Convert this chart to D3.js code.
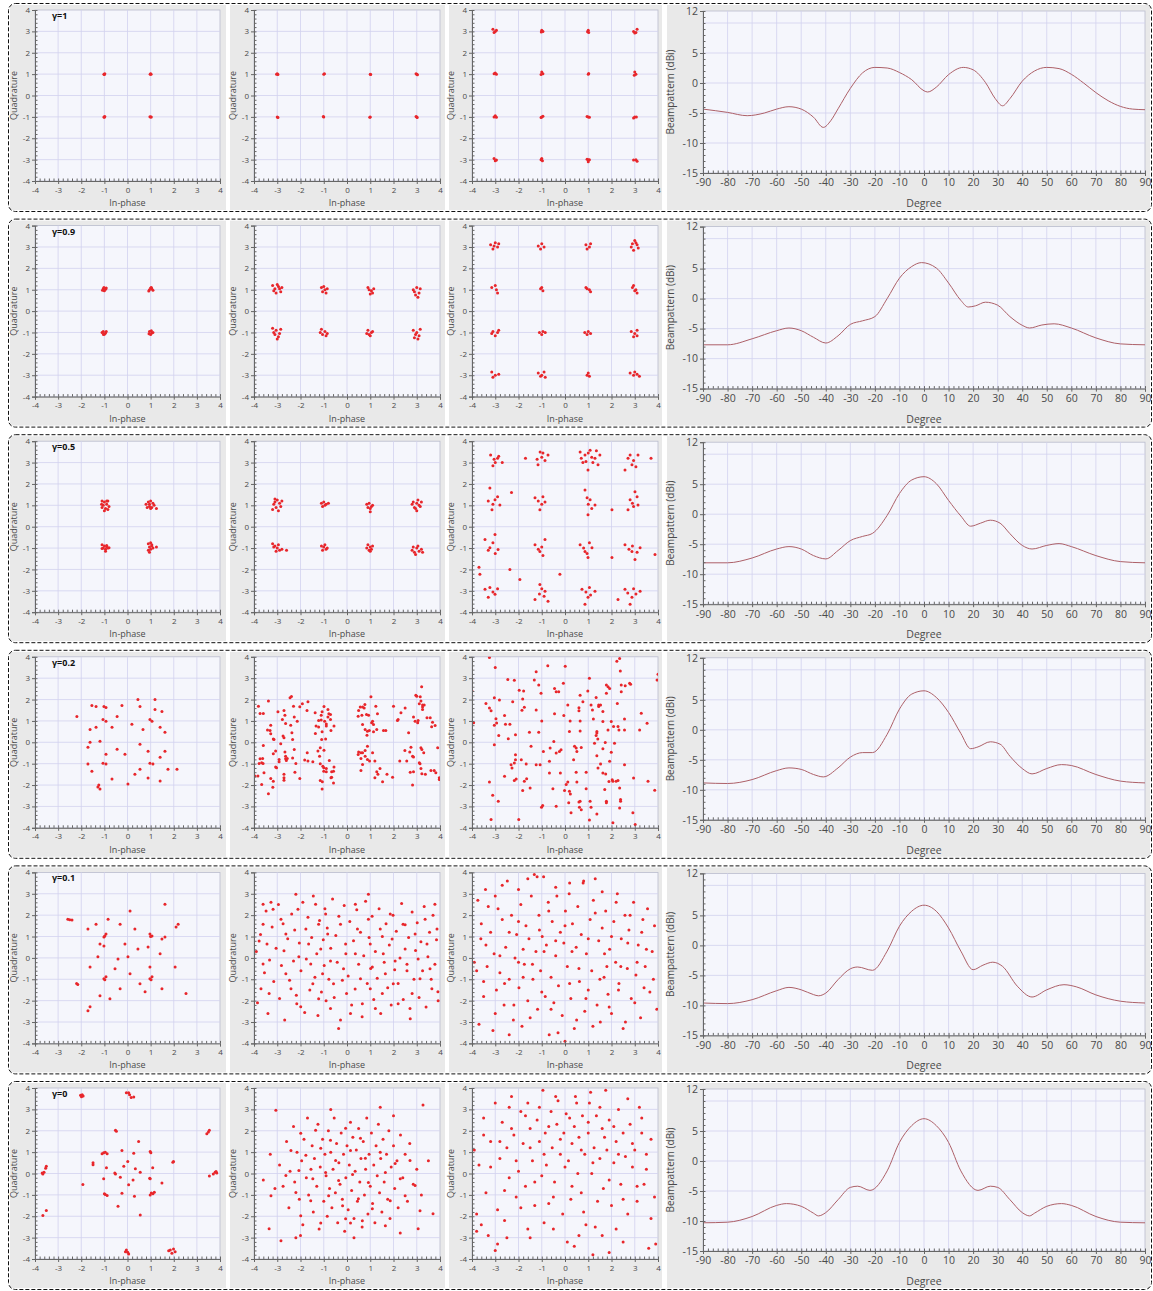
<!DOCTYPE html>
<html>
<head>
<meta charset="utf-8">
<script src="https://cdn.jsdelivr.net/npm/d3@7"></script>
<style>
  body { margin: 0; background: #fff; }
  svg { display: block; }
  text { font-family: "Open Sans", "DejaVu Sans", sans-serif; }
</style>
</head>
<body>
<svg id="fig" width="1153" height="1291"></svg>
<script>
// ---- labels / ticks ----
const gammaLabels = ["γ=1", "γ=0.9", "γ=0.5", "γ=0.2", "γ=0.1", "γ=0"];
const iqTicks = [-4, -3, -2, -1, 0, 1, 2, 3, 4];
const degTicks = [-90, -80, -70, -60, -50, -40, -30, -20, -10, 0, 10, 20, 30, 40, 50, 60, 70, 80, 90];
const dbTicks = [12, 5, 0, -5, -10, -15];
const dbGrid = [10, 5, 0, -5, -10];

// ---- constellations, [in-phase, quadrature] ----
const g1_a = [[-1.02,1],[-0.98,1.02],[-1,0.98],[1,1.02],[0.98,1],[1.02,0.99],[-1.02,-1],[-0.98,-0.98],[-1,-1.02],[1,-1],[1.03,-1.01],[0.97,-0.99]];
const g1_b = [[-3,1.02],[-2.97,0.98],[-3.03,1],[-1,1],[-0.97,1.02],[1,1],[1.02,0.98],[3,1],[2.97,1.02],[3.03,0.97],
  [-3,-1],[-2.97,-1.03],[-1,-1],[-1.02,-0.98],[1,-1],[0.98,-1.02],[3,-1],[3.02,-1.03],[2.97,-0.98]];
const g1_c = [[-3.1,3.1],[-3,3],[-2.95,3.05],[-3.05,2.95],[-1,3.05],[-0.95,3],[-1.02,2.97],[1,3.05],[1.02,2.95],[0.97,2.98],
  [2.95,3],[3.05,2.95],[3.1,3.1],[3,2.92],[-3,1.05],[-2.95,1],[-3.05,1.02],[-1,1.1],[-0.95,1.02],[-1.03,0.98],[1,1],[1.02,1.03],
  [3,1.1],[3.05,1],[2.98,0.95],[-3,-0.95],[-2.95,-1.02],[-3.05,-1],[-1,-1],[-0.95,-0.97],[-1.03,-1.03],[1,-1],[1.05,-1.02],[0.95,-0.98],
  [3,-1],[2.95,-1.05],[3.07,-1],[-3.05,-2.95],[-2.95,-3.02],[-3,-3.05],[-1,-2.95],[-0.97,-3.05],[-1.03,-3],
  [1,-3],[0.95,-2.98],[1.05,-3],[1,-3.1],[2.95,-3.02],[3.05,-3],[3.1,-3.08]];

const g09_a = [[-1.05,1.05],[-0.95,1.02],[-1,0.95],[-1.08,0.98],[-0.92,1.08],[-1.02,1.1],
  [1.05,1.04],[0.95,1],[1,1.08],[1.1,0.97],[0.92,0.94],[1.03,1.1],
  [-1.05,-0.95],[-0.95,-1.02],[-1,-1.08],[-1.1,-1],[-0.92,-0.96],[-1.04,-1.1],
  [1.05,-1.03],[0.95,-0.96],[1,-1.1],[1.1,-1],[0.93,-1.06],[1.03,-0.92]];
const g09_b = [[-3.2,1.2],[-3.1,1.05],[-2.95,1.15],[-2.85,0.9],[-3.05,0.85],[-3.15,0.95],[-2.9,1.05],[-3,1.25],[-2.8,1.1],
  [-1.1,1.1],[-0.95,1],[-1.05,0.9],[-0.85,1.05],[-1,1.15],[-0.9,0.85],
  [0.9,1.1],[1.05,0.95],[1,0.8],[1.15,1.05],[0.95,1],[1.1,0.85],
  [2.85,1],[3,1.1],[3.1,0.85],[2.95,0.75],[3.15,1.05],[2.9,0.9],[3.05,0.65],
  [-3.2,-0.8],[-3.05,-0.9],[-2.9,-1.05],[-3.1,-1.1],[-2.95,-1.2],[-3.15,-1],[-2.85,-0.85],[-3,-1.3],
  [-1.1,-0.85],[-0.95,-0.95],[-1.05,-1.1],[-0.85,-1.05],[-1.15,-1],[-0.9,-1.15],
  [0.9,-0.9],[1.05,-1],[0.95,-1.1],[1.1,-0.95],[1,-1.15],[0.85,-1.05],
  [2.85,-0.9],[3,-1],[3.1,-1.15],[2.9,-1.25],[3.15,-0.85],[3.05,-1.3],[2.95,-1.1]];
const g09_c = [[-3.2,3.1],[-3,3.2],[-2.9,3],[-3.1,2.9],[-2.85,3.15],[-3.05,3.05],[-1.15,3.05],[-1,3.15],[-0.9,3],[-1.05,2.9],
  [0.9,3.1],[1.05,3],[1.1,3.15],[0.95,2.9],[2.85,3],[3,3.3],[3.1,3.1],[2.95,2.85],[3.15,2.95],[3.05,3.2],[2.9,3.15],
  [-3.15,1.1],[-2.95,1],[-3,1.2],[-2.9,0.85],[-1.05,1.05],[-0.95,0.95],[-1,1.1],[0.9,1.1],[1.05,1],[1.1,0.9],[0.95,1.05],
  [2.9,1.1],[3.05,1],[3.1,0.85],[2.95,1.2],[3,0.95],[-3.1,-0.95],[-2.9,-1],[-3,-1.15],[-3.15,-1.05],[-2.85,-0.9],
  [-1.1,-1],[-0.95,-0.95],[-1,-1.1],[-0.85,-1],[0.85,-1],[1,-0.95],[1.1,-1.05],[0.95,-1.1],
  [2.85,-0.95],[3,-1.05],[3.1,-0.9],[2.95,-1.2],[3.1,-1.15],[-3.15,-2.85],[-3,-3],[-2.85,-2.95],[-3.1,-3.1],
  [-1.15,-2.9],[-1,-3],[-0.85,-3.1],[-1.05,-3.05],[-0.9,-2.85],[0.95,-3],[1.05,-3.05],[1,-2.9],
  [2.8,-2.9],[2.95,-3],[3.1,-2.95],[3.2,-3.05],[3,-2.85]];

const g05_a = [[-1.1,1.2],[-1,1.15],[-0.85,1.2],[-1.05,1],[-0.9,1.05],[-0.8,0.95],[-1.1,0.9],[-0.95,0.85],[-1,0.75],[-0.85,0.8],[-1.12,1.05],[-0.9,1.2],
  [0.8,1.05],[0.9,1.15],[1,1.2],[1.1,1.1],[0.95,0.95],[1.05,0.9],[1.25,0.85],[0.85,0.9],[1.15,1],[0.95,1.05],[1,0.85],
  [-1.1,-0.85],[-1,-0.9],[-0.9,-0.95],[-1.05,-1],[-0.95,-1.05],[-0.85,-1],[-0.8,-0.98],[-0.95,-1.15],[-1.1,-1.02],[-0.9,-0.88],
  [0.9,-0.8],[1,-0.75],[1.05,-0.9],[0.95,-0.95],[1,-1.05],[0.9,-1.1],[1.1,-1],[1.25,-0.95],[0.95,-1.2],[1.05,-0.85]];
const g05_b = [[-3.1,1.3],[-3,1.25],[-2.9,1.1],[-3.15,1.05],[-3.05,0.9],[-2.85,0.95],[-3.2,0.8],[-2.95,0.75],[-3.1,1.15],[-2.8,1.2],
  [-1.1,1.1],[-1,1.15],[-0.9,1.05],[-1.05,0.95],[-0.95,1],[-0.8,1.1],
  [0.85,1.05],[0.95,1.1],[1.05,0.95],[1,0.85],[1.1,1],[0.9,0.9],[1,0.7],
  [2.8,1.05],[2.9,0.9],[3,1.1],[3.1,1],[3.2,1.15],[3,0.75],[2.95,0.85],[3.15,0.95],[3.05,1.25],[2.85,1.15],
  [-3.2,-0.8],[-3.1,-0.9],[-3,-1],[-2.9,-1.1],[-2.8,-1.05],[-3.05,-1.15],[-3.15,-0.95],[-2.6,-1.1],[-2.95,-0.85],
  [-1.1,-0.9],[-1,-0.95],[-0.9,-1.05],[-1.05,-1.1],[-0.95,-0.85],[-0.85,-1],
  [0.9,-0.85],[1,-0.95],[1.05,-1.05],[0.95,-1.1],[1.1,-0.9],[0.85,-1],[1,-1.15],
  [2.8,-1.1],[2.9,-1.2],[3,-1],[3.1,-1.15],[3.2,-1.05],[2.95,-1.3],[3.05,-0.9],[3.25,-1.2],[2.85,-0.95]];
const g05_c = [[-3.2,3.35],[-3,3],[-2.9,3.2],[-2.7,3],[-1.07,3.5],[-0.86,3.1],[-1.16,2.9],[-0.73,3.35],
  [0.65,3.5],[0.86,3.35],[1.08,3.58],[1.29,3.2],[1.5,3.35],[0.77,3],[1.2,3],[0.99,2.65],[1.42,2.9],
  [2.71,3.2],[2.88,2.9],[3.14,3.35],[2.58,2.65],[-3.23,1.81],[-3.01,1.26],[-2.8,1.02],[-3.14,0.79],
  [-1.29,1.35],[-0.86,1.16],[-1.08,0.79],[0.86,1.72],[1.08,1.26],[1.29,1.02],[0.99,0.56],
  [2.8,1.26],[3.01,1.63],[2.71,0.79],[3.14,1.02],[-3.44,-0.6],[-3.23,-0.98],[-2.88,-1.07],[-3.01,-0.37],
  [-1.29,-0.84],[-1.08,-1.16],[-0.86,-0.6],[0.65,-0.84],[0.86,-1.16],[1.16,-0.98],[0.99,-1.44],
  [2.58,-0.84],[2.88,-1.16],[3.23,-0.98],[3.01,-1.53],[-3.66,-2.23],[-3.44,-2.93],[-3.01,-3.16],[-3.23,-2.84],
  [-1.08,-2.7],[-0.86,-3.02],[-1.29,-3.4],[-0.73,-3.49],[0.73,-2.93],[0.99,-3.3],[1.29,-3.02],[0.86,-3.63],
  [2.58,-2.93],[2.88,-3.3],[3.23,-3.02],[2.8,-3.63],[2.28,-3.4],[-2.37,-2],[-1.94,-2.47],[-0.22,-2.23],
  [2.02,-1.44],[3.87,-1.3],[2.02,0.79],
  [-3.05,3.15],[-2.85,3.3],[-3.1,2.85],[-1,3.25],[-0.95,3.45],[-1.2,3.15],[0.7,3.2],[1,3.45],[1.35,3.55],[0.9,3.05],
  [1.15,3.25],[2.95,3.1],[3.05,2.8],[2.8,3.35],[-3.1,1.05],[-2.9,1.4],[-3.3,1.2],[-1,1.05],[-1.15,1.2],[-0.95,1.4],
  [1,1.05],[0.95,1.35],[1.15,0.85],[2.9,1.1],[3.1,1.4],[2.95,0.95],[-3.1,-0.75],[-3,-1.25],[-3.3,-1.1],[-1,-0.95],
  [-1.15,-1.05],[-0.95,-1.35],[0.8,-1],[1.05,-0.75],[0.95,-1.25],[2.9,-0.9],[3.1,-1.2],[2.75,-1.05],[-3.1,-3.05],[-3.3,-3.3],
  [-2.9,-2.9],[-1,-2.9],[-1.1,-3.15],[-0.9,-3.25],[1.05,-2.85],[1.1,-3.2],[0.9,-3.05],[2.95,-2.9],[3.05,-3.15],[2.7,-3.1],
  [-2.3,1.6],[-3.7,-1.9],[-1.7,3.2],[3.7,3.2]];

const g02_a = [[-2.19,1.21],[-1.54,1.72],[-1.36,1.67],[-1.02,1.67],[-0.93,1.63],[-1.06,1.07],[-0.93,0.98],[-1.62,0.6],[-1.36,0.7],
  [-0.45,1.21],[-0.67,0.7],[-0.24,1.72],[0.54,1.67],[0.19,0.84],[0.97,1.07],[1.06,0.98],[1.19,1.53],[1.49,1.44],[1.62,0.47],
  [1.41,0.7],[0.67,0.6],[-1.62,0],[-1.71,-0.23],[-1.19,0.05],[-0.93,-0.56],[-0.45,-0.33],[-0.11,-0.56],[0.54,-0.09],[0.89,-0.42],
  [1.62,-0.42],[1.41,-0.7],[-1.06,-0.98],[-0.93,-1.02],[-1.71,-1.02],[-1.54,-1.35],[0.97,-0.98],[1.1,-1.02],[0.54,-1.26],
  [1.75,-1.26],[2.14,-1.26],[-1.28,-2.09],[-1.19,-2.19],[-1.24,-2],[-0.67,-1.72],[0.02,-1.95],[0.32,-1.49],[0.89,-1.67],
  [1.41,-1.81],[1.19,2],[0.45,2]];
const g02_b = [[-3.81,1.69],[-3.74,1.35],[-3.6,1.35],[-3.38,1.93],[-3.42,0.57],[-3.31,0.55],[-3.28,0.8],[-3.28,0.4],[-3.17,0.16],[-3.14,0.13],
  [-3.6,-0.15],[-3.74,-0.77],[-3.67,-0.96],[-3.61,-0.99],[-3.78,-0.99],[-3.63,-0.76],[-3.57,-1.43],[-3.96,-1.58],[-3.83,-1.58],[-3.67,-1.97],
  [-3.38,-2.41],[-3.28,-1.69],[-3.17,-1.82],[-3.19,-2.1],[-3.17,-0.54],[-3.07,-0.41],[-3.03,-1.19],[-3.07,-1.16],[-2.92,-0.8],[-2.92,-0.91],
  [-2.97,1.43],[-2.85,-0.07],[-2.78,1.07],[-2.71,1.49],[-2.67,1.27],[-2.75,0.29],[-2.71,0.21],[-2.64,0.88],[-2.67,-0.45],[-2.64,-0.65],
  [-2.64,-0.77],[-2.61,-0.85],[-2.57,-0.76],[-2.71,-1.5],[-2.71,-1.66],[-2.71,-1.77],[-2.45,2.08],[-2.39,2.14],[-2.42,0.8],[-2.3,1.69],
  [-2.37,0.45],[-2.34,0.13],[-2.27,1.18],[-2.27,-0.34],[-2.34,-0.73],[-2.2,-0.99],[-2.24,-1.4],[-2.14,0.99],[-2.03,1.66],[-2.03,-1.69],
  [-1.92,1.8],[-1.72,1.49],[-1.68,1.9],[-1.71,-0.49],[-1.82,-0.83],[-1.68,-0.88],[-1.47,-0.91],[-1.37,1.38],[-1.36,0.41],[-1.33,0.76],
  [-1.25,-0.41],[-1.22,1.02],[-1.22,0.71],[-1.18,-0.65],[-1.15,-0.26],[-1.15,-1],[-1.11,1.27],[-1.11,1.04],[-1.07,1.43],[-1.07,0.49],
  [-1.09,0.13],[-1.15,-1.79],[-1.07,-2.18],[-1.06,-1.85],[-1.04,-1.12],[-1,-1.19],[-1,-1.35],[-0.99,1.68],[-0.96,0.99],[-0.99,-0.37],
  [-0.92,0.16],[-0.89,0.86],[-0.89,0.76],[-0.89,-1.22],[-0.89,-1.38],[-0.82,1.18],[-0.78,1.33],[-0.71,1.3],[-0.82,1.54],[-0.71,1.07],
  [-0.69,0.55],[-0.76,-0.85],[-0.69,-1.66],[-0.66,-1.63],[-0.66,-1.38],[-0.58,-1.9],[-0.56,-1.16],[-0.56,0.76],[-0.58,-1.35],
  [0.5,1.49],[0.48,1.22],[0.57,1.65],[0.5,-0.45],[0.6,-0.49],[0.48,-0.57],[0.6,-0.76],[0.6,-1.32],[0.67,1.65],[0.67,0.83],
  [0.64,1.27],[0.67,-1.04],[0.67,-0.49],[0.77,1.77],[0.74,1.61],[0.78,0.6],[0.78,-0.38],[0.78,-0.65],[0.84,1.3],[0.86,0.33],
  [0.88,0.52],[0.88,-0.18],[0.88,-0.8],[0.93,1.27],[0.96,0.55],[0.97,-0.88],[1.03,2.13],[1.06,0.91],[1.1,0.99],[1.1,-0.49],
  [1.14,0.83],[1.14,0.49],[1.2,-0.88],[1.2,-1.66],[1.24,1.69],[1.28,0.6],[1.28,-1.38],[1.31,1.33],[1.33,-1.5],[1.42,-1.22],
  [1.53,-1.85],[1.57,0.55],[1.67,0.55],[1.72,-1.5],[2,1.69],[1.96,-1.63],[2.17,1.02],[2.2,1.07],[2.27,-0.88],[2.32,1.38],
  [2.49,-0.38],[2.5,1.61],[2.57,-0.88],[2.65,0.45],[2.7,-0.45],[2.72,-1.4],[2.75,-0.23],[2.82,-0.65],[2.86,1.18],[2.86,-0.69],
  [2.86,-1.38],[2.82,-2],[2.93,0.99],[2.96,2.2],[3,2.16],[3.04,0.91],[3.06,1.02],[3.11,1.8],[3.14,-1],[3.11,-0.96],
  [3.15,2.13],[3.18,1.93],[3.18,-1.22],[3.21,2.6],[3.18,-0.26],[3.22,-0.34],[3.25,1.65],[3.25,1.74],[3.25,1.54],[3.3,-0.49],
  [3.22,-1.47],[3.32,1.74],[3.37,-1.5],[3.44,1.15],[3.58,1.15],[3.61,-1.32],[3.64,0.73],[3.68,0.94],[3.79,0.79],[3.75,-1.32],
  [3.82,-1.43],[3.9,-0.26],[3.97,-1.66],[3.97,-1.74]];
const g02_c = [[-3.25,3.97],[-3,3.5],[-4,2.4],[-3.93,0.92],[-3.4,1.82],[-3.25,1.6],[-3.18,1.48],[-3.04,2.09],[-2.82,1.98],[-2.97,1.1],
  [-3.04,0.8],[-2.94,0.9],[-2.6,1.25],[-2.46,2.94],[-2.18,2.9],[-1.97,2.44],[-2.25,1.9],[-2.37,0.85],[-2.56,0.85],[-2.44,0.17],
  [-2.85,0.32],[-3.04,-0.12],[-2.13,0.35],[-1.85,1.5],[-1.75,1.64],[-1.82,2.03],[-1.78,2.4],[-1.53,0.47],[-1.46,-0.19],[-1.32,2.91],
  [-1.24,3.3],[-1.13,2.68],[-1.24,1.51],[-1.13,0.47],[-1.03,2.29],[-1,1],[-0.74,3.58],[-0.93,-0.43],[-0.96,-2.96],[-1.01,-3.04],
  [-1.24,-1.05],[-1.07,-1.05],[-1.67,-1.02],[-1.88,-0.82],[-2.13,-0.58],[-2.13,-0.82],[-2.18,-0.97],[-2.32,-1.05],[-2.28,-1.2],[-2.6,-1.59],
  [-3.25,-1.86],[-3.11,-2.48],[-2.87,-2.76],[-3.18,-3.61],[-2.18,-1.79],[-2.1,-1.72],[-1.75,-1.82],[-1.65,-1.7],[-1.82,-2.26],[-1.5,-2.14],
  [-1.99,-3.61],[-0.64,-0.27],[-0.67,-0.89],[-0.67,-1.44],[-0.45,2.52],[-0.38,2.37],[-0.27,2.37],[-0.45,1.33],[-0.48,0.04],[-0.38,-0.5],
  [-0.24,-0.43],[-0.17,-0.35],[-0.2,-1.44],[-0.52,-2.17],[-0.38,-2.99],[-0.07,2.76],[-0.05,1.25],[0.01,3.56],[0.12,1.75],[0.19,0.5],
  [0.22,1],[0.05,-1.98],[-0.02,-2.26],[0.19,-2.29],[0.12,-1.86],[0.23,-2.42],[0.16,-2.83],[0.26,-3.3],[0.41,-0.19],[0.48,-0.27],
  [0.51,-0.43],[0.37,-0.82],[0.48,-1.4],[0.51,-1.86],[0.6,-2.79],[0.65,-2.76],[0.62,-3.04],[0.7,-3.15],[0.6,1.62],[0.6,1.48],
  [0.65,1],[0.65,0.53],[0.7,-0.24],[0.65,2.2],[0.77,1.9],[0.91,-1.4],[0.91,-2.17],[0.98,2.4],[1.05,3],[1.08,-2.76],
  [1.12,-3.04],[1.05,-3.64],[1.18,1.51],[1.12,1.75],[1.22,1.09],[1.27,-0.04],[1.37,0.5],[1.37,0.43],[1.34,0.32],[1.41,0.16],
  [1.37,-0.63],[1.34,2.1],[1.45,1.75],[1.45,1.67],[1.53,1.75],[1.42,-1.2],[1.37,-3.35],[1.53,-1.02],[1.63,-0.3],[1.63,-1.44],
  [1.63,1.44],[1.63,0.97],[1.73,-0.01],[1.75,-1.48],[1.78,-2.76],[1.78,-2.83],[1.71,-2.21],[1.78,2.68],[1.85,2.6],[1.92,2.52],
  [1.78,2.29],[1.85,0.58],[1.92,-0.89],[1.89,-1.83],[1.99,-0.46],[2.03,-1.75],[2.06,-1.82],[2.06,-3.76],[2.09,0.74],[2.13,-0.04],
  [1.99,0.97],[2.2,-1.82],[2.28,-1.79],[2.25,1.82],[2.28,0.74],[2.32,0.58],[2.23,3.79],[2.35,3.92],[2.38,3.33],[2.42,2.37],
  [2.42,2.68],[2.35,-2.14],[2.35,-3.07],[2.39,-2.68],[2.39,-2.76],[2.56,-1.05],[2.56,0.58],[2.59,2.65],[2.56,1.09],[2.78,2.76],
  [2.82,2.71],[2.95,-1.67],[2.92,-3.3],[3.02,-3.84],[3.21,0.58],[3.28,1.36],[3.53,0.89],[3.57,-1.82],[3.86,-2.24],[3.96,2.91],[4,3.18]];

const g01_a = [[-2.58,1.81],[-2.5,1.78],[-2.4,1.77],[-2.2,-1.2],[-2.15,-1.25],[-1.71,-2.47],[-1.62,-2.28],[-1.19,0.65],[-1.02,0.56],[-1.28,0.05],
  [-1.62,-0.42],[-0.93,1.12],[-1.02,0.98],[-0.98,1.02],[-1.02,-0.98],[-0.93,-0.88],[-0.98,-1.02],[-0.84,1.81],[-0.32,1.58],[-0.11,0.65],
  [0.02,0.05],[0.45,0.42],[-0.41,-0.05],[-0.54,-0.51],[0.11,-0.74],[0.97,1.12],[1.06,1.02],[1,1],[1.49,0.88],[1.62,0.98],
  [0.89,0.51],[1.41,0.19],[0.97,-0.42],[0.97,-0.98],[1.06,-0.88],[1.02,-1.02],[0.54,-1.21],[1.49,-1.44],[2.19,1.58],[2.1,1.44],
  [2.06,-0.42],[2.53,-1.67],[1.62,2.51],[0.11,2.19],[0.76,-1.58],[-0.32,-1.44],[-0.76,-1.91],[-1.19,-1.77],[-1.36,1.58],[-1.71,1.35],[0.32,1.35]];
const g01_b = [[-3.61,2.51],[-3.27,2.6],[-3.18,2.28],[-3.61,1.58],[-3.44,0.65],[-3.78,0.79],[-3.61,-0.28],[-3.7,-1.44],[-3.35,-1.67],[-2.84,1.81],
  [-2.63,1.12],[-2.71,0.33],[-2.63,-0.74],[-2.41,-1.44],[-2.2,2.98],[-2.11,2.28],[-2.07,0.05],[-2.16,-2.14],[-1.99,-2.28],[-1.77,1.35],
  [-1.65,0.65],[-1.56,-0.28],[-1.47,-1.21],[-1.35,2.51],[-1.22,1.58],[-1.13,0.42],[-1.05,-0.74],[-1.22,-1.91],[-0.92,2.05],[-0.83,1.12],
  [-0.71,-0.14],[-0.58,-1.21],[-0.71,-2.37],[-0.36,-3.3],[-0.28,1.58],[-0.06,0.65],[-0.15,-0.51],[-0.02,-1.67],[0.15,-2.6],[0.36,2.51],
  [0.45,1.35],[0.36,0.19],[0.58,-0.98],[0.66,-2.14],[0.92,2.98],[0.92,1.81],[1,0.65],[1.09,-0.42],[1,-1.44],[1.22,-2.37],
  [1.43,1.35],[1.56,0.19],[1.65,-0.74],[1.52,-1.67],[1.86,2.05],[1.94,0.88],[2.07,-0.14],[1.99,-1.21],[2.2,-2.14],[2.41,1.58],
  [2.5,0.42],[2.58,-0.6],[2.71,-2.37],[2.8,-1.67],[2.93,1.12],[3.06,-0.05],[3.14,-0.98],[3.36,1.81],[3.44,0.65],[3.57,-0.51],
  [3.65,-1.44],[3.78,2.51],[3.87,1.35],[3.91,-1.58],
  [-3.9,0.3],[-3.85,-2.1],[-3.72,1.1],[-3.55,-0.7],[-3.48,2.2],[-3.4,-2.6],[-3.33,-0.1],[-3.22,1.45],[-3.15,-1.1],[-3.05,0.45],
  [-2.95,2.5],[-2.9,-1.9],[-2.82,-0.35],[-2.75,1.6],[-2.68,-2.9],[-2.55,0.9],[-2.47,-1.05],[-2.38,2.05],[-2.3,-0.15],[-2.25,1.3],
  [-2.18,-1.75],[-2.05,0.7],[-1.98,-0.6],[-1.9,2.6],[-1.82,-2.55],[-1.75,-0.05],[-1.68,1.9],[-1.6,-1.5],[-1.52,0.95],[-1.45,2.9],
  [-1.38,-0.9],[-1.3,0.2],[-1.25,-2.7],[-1.18,1.75],[-1.1,-1.6],[-1.02,0.85],[-0.98,-0.35],[-0.95,2.3],[-0.9,-2],[-0.85,1.4],
  [-0.78,-1],[-0.7,0.45],[-0.62,2.75],[-0.55,-1.85],[-0.48,1.05],[-0.42,-0.2],[-0.35,1.95],[-0.28,-2.9],[-0.2,-1.05],[-0.12,2.45],
  [-0.05,0.2],[0.05,-0.85],[0.12,1.7],[0.2,-2.2],[0.28,0.8],[0.35,-1.45],[0.42,2.25],[0.5,-0.3],[0.58,1.2],[0.65,-2.75],
  [0.72,0.1],[0.8,2.65],[0.87,-1.2],[0.95,0.95],[1.02,-0.5],[1.08,1.95],[1.15,-1.95],[1.22,0.3],[1.3,-0.95],[1.38,2.3],
  [1.45,-2.6],[1.52,1],[1.6,-0.2],[1.68,1.6],[1.75,-1.4],[1.82,0.6],[1.9,-2.2],[1.98,2],[2.05,-0.55],[2.12,1.25],
  [2.2,-1.2],[2.28,0],[2.35,2.55],[2.42,-1.95],[2.5,1.55],[2.58,-0.3],[2.65,0.95],[2.72,-2.85],[2.8,2.15],[2.88,-1],
  [2.95,0.35],[3.02,1.65],[3.1,-1.85],[3.18,0.75],[3.25,-0.6],[3.32,2.4],[3.4,-2.3],[3.48,0.05],[3.55,1.2],[3.62,-1],
  [3.7,2],[3.78,-0.3],[3.85,0.85],[3.92,-2]];
const g01_c = [[-3.6,1.6],[-3.3,2.4],[-3,2.9],[-2.7,3.4],[-2,3.2],[-1.6,3.7],[-1.2,3.8],[-0.4,3.3],[0.2,3.5],[0.8,3.6],
  [1.6,3.1],[2.2,2.6],[2.8,2],[3.3,1.2],[-3.8,-0.6],[-3.4,0.6],[-2.8,0.1],[-2.4,1.2],[-2,1.7],[-1.8,0.4],
  [-1.4,-0.3],[-1.1,1.3],[-0.7,2.2],[-0.4,0.8],[0,1.5],[0.3,0.3],[0.6,-0.5],[1,0.9],[1.3,2.1],[1.7,0.2],
  [2,1],[2.4,-0.4],[2.7,0.7],[3.1,-0.2],[3.5,0.4],[3.8,-1],[-3.5,-1.8],[-3,-2.6],[-2.6,-1.2],[-2.2,-2.2],
  [-1.8,-0.9],[-1.5,-2.8],[-1,-1.6],[-0.6,-2.4],[-0.3,-3.5],[0.2,-1.2],[0.5,-2.9],[0.9,-1.9],[1.2,-3.2],[1.5,-1],
  [1.9,-2.3],[2.3,-1.5],[2.6,-3],[3,-2.1],[3.4,-1.4],[-2.4,-3.6],[0,-3.9],[1.8,-0.4],[-0.9,0.3],[-2,-0.2],
  [-3.9,-0.2],[-3.75,2.7],[-3.7,-3.1],[-3.62,0.9],[-3.5,-1.1],[-3.42,3.2],[-3.35,-0.4],[-3.2,1.2],[-3.1,-3.4],[-3.05,0.2],
  [-2.95,-1.5],[-2.88,2.3],[-2.8,-0.7],[-2.7,1.8],[-2.62,-2.2],[-2.55,0.5],[-2.48,3.6],[-2.4,-1],[-2.3,2],[-2.22,-2.9],
  [-2.15,0],[-2.08,1.1],[-1.98,-1.4],[-1.9,2.5],[-1.85,-3.2],[-1.75,-0.3],[-1.68,1.5],[-1.6,-2],[-1.55,0.9],[-1.45,2.9],
  [-1.38,-1],[-1.32,3.9],[-1.25,0.3],[-1.18,-2.4],[-1.12,2],[-1.05,-0.6],[-0.98,1],[-0.92,3.8],[-0.85,-1.8],[-0.8,0.6],
  [-0.72,2.6],[-0.68,-3.6],[-0.6,-0.9],[-0.55,1.7],[-0.48,-2.1],[-0.4,0.1],[-0.35,2.9],[-0.28,-1.3],[-0.2,1.2],[-0.12,-2.7],
  [-0.05,0.7],[0.02,2.2],[0.1,-0.4],[0.18,3],[0.25,-1.9],[0.32,1.6],[0.4,-3.3],[0.48,0.5],[0.55,2.4],[0.62,-1.1],
  [0.7,1.1],[0.78,3.5],[0.85,-2.5],[0.92,0.2],[1,-1.5],[1.08,1.8],[1.15,-0.6],[1.22,2.7],[1.3,3.7],[1.38,-2.2],
  [1.45,0.8],[1.52,-3],[1.6,1.4],[1.68,-0.9],[1.75,2.2],[1.85,-1.7],[1.92,0.4],[2,-2.6],[2.1,1.7],[2.18,-0.2],
  [2.25,3],[2.32,-1.2],[2.42,0.9],[2.5,-3.3],[2.58,2],[2.68,-0.5],[2.75,1.3],[2.85,-1.9],[2.95,2.6],[3.05,-0.8],
  [3.15,0.6],[3.25,-2.8],[3.35,1.8],[3.45,-0.4],[3.55,2.3],[3.65,-1.6],[3.75,0.3],[3.85,1.5],[3.95,-2.4]];

const g0_a = [[-2.03,3.66],[-1.96,3.69],[-1.92,3.62],[-1.99,3.59],[-0.05,3.78],[0.05,3.78],[0.09,3.69],[0.16,3.55],[0.27,3.58],
  [3.5,1.94],[3.54,2.02],[3.43,1.86],[-0.52,2.02],[-0.48,1.98],[0.48,1.5],[-1.03,0.97],[-0.96,1],[-0.88,0.92],[-1.1,0.92],
  [-0.24,1.08],[0.27,0.95],[0.98,1.03],[1.01,0.97],[1.99,0.56],[1.96,0.53],[0.01,0.56],[-1.49,0.5],[-1.49,0.41],[-0.91,0.27],
  [-0.16,0.34],[0.34,0.22],[1.09,0.27],[0.55,0.06],[-3.54,0.25],[-3.51,0.34],[-3.61,0.06],[-3.66,-0.02],[-3.69,0.02],
  [3.71,-0.02],[3.79,0.06],[3.83,0.09],[3.86,0.02],[3.54,-0.12],[-0.52,-0.02],[-0.55,0.02],[-1.03,-0.25],[-0.31,-0.17],[0.24,-0.3],
  [0.96,-0.22],[0.98,-0.25],[1.49,-0.44],[0.05,-0.53],[-1.93,-0.52],[-0.24,-0.92],[0.3,-1.06],[-0.96,-0.98],[-0.88,-1.03],[-1,-0.95],
  [1.03,-0.91],[1.1,-0.95],[0.98,-1],[1.16,-0.88],[-0.41,-1.53],[0.55,-1.94],[-3.66,-1.97],[-3.51,-1.73],
  [-0.05,-3.58],[0.01,-3.69],[-0.09,-3.66],[0.05,-3.77],[1.85,-3.58],[1.99,-3.53],[1.78,-3.61],[2.06,-3.66],[1.92,-3.73]];
const g0_b = [[-3.06,2.96],[1.43,3.1],[3.27,3.2],[-1.99,1.88],[-1.35,2.02],[-0.71,1.55],[-0.06,2.12],[0.58,1.65],[-2.41,1.08],[-1.77,0.85],
  [-1.13,1.18],[-0.49,0.61],[0.15,1.08],[0.79,0.71],[1.43,0.99],[2.07,0.47],[2.71,0.61],[-2.63,-0.09],[-2.07,0.14],[-1.47,-0.24],
  [-0.92,0.05],[-0.36,-0.33],[0.24,-0.05],[0.92,-0.42],[1.65,0.05],[2.29,-0.24],[2.93,-0.56],[-3.27,-1.04],[-2.2,-0.89],[-1.56,-1.27],
  [-0.79,-1.04],[-0.19,-1.51],[0.49,-1.18],[1.09,-1.65],[1.86,-1.27],[2.5,-1.04],[3.14,-1.74],[-1.99,-1.98],[-1.13,-2.31],[-0.06,-2.12],
  [0.15,-2.31],[0.66,-2.21],[1.65,-2.45],[-3.35,-2.59],[-2.84,-3.15],[-2.2,-3.01],[2.29,-2.78],[3.06,-2.59],[3.7,-1.88],
  [-2.9,0.4],[-2.75,-0.6],[-2.6,1.5],[-2.5,-1.6],[-2.45,0.1],[-2.3,2.2],[-2.25,-0.4],[-2.15,1],[-2.05,-1.2],[-1.95,0.6],
  [-1.9,-2.4],[-1.85,1.6],[-1.75,-0.2],[-1.7,2.6],[-1.65,-1],[-1.55,0.2],[-1.5,1.3],[-1.45,-1.8],[-1.4,0.7],[-1.3,-0.6],
  [-1.25,2.3],[-1.2,-2.6],[-1.15,0.3],[-1.05,1.6],[-1,-1.3],[-0.95,0.9],[-0.9,-0.1],[-0.85,-2],[-0.8,2],[-0.75,-0.7],
  [-0.7,1],[-0.65,-1.6],[-0.6,0.2],[-0.55,2.6],[-0.5,-0.9],[-0.45,1.4],[-0.4,-2.3],[-0.35,0.5],[-0.3,-0.5],[-0.25,1.9],
  [-0.2,-1.2],[-0.15,0.9],[-0.1,-2.7],[-0.05,-0.2],[0,1.3],[0.05,-1.7],[0.1,0.4],[0.15,2.4],[0.2,-0.8],[0.25,1.7],
  [0.3,-2.1],[0.35,0.1],[0.4,1.1],[0.45,-1.3],[0.5,2.1],[0.55,-0.4],[0.6,0.7],[0.65,-2.5],[0.7,1.5],[0.75,-1],
  [0.8,0.2],[0.85,2.6],[0.9,-1.9],[0.95,0.9],[1,-0.6],[1.05,1.9],[1.1,-1.4],[1.15,0.4],[1.2,-2.3],[1.25,1.3],
  [1.3,-0.1],[1.35,2.3],[1.4,-0.9],[1.45,0.7],[1.5,-1.8],[1.55,1.6],[1.6,-0.4],[1.7,0.9],[1.75,-1.2],[1.8,2],
  [1.85,-2.1],[1.9,0.3],[2,1.3],[2.05,-0.7],[2.15,0.6],[2.2,-1.6],[2.3,1.8],[2.4,-0.2],[2.5,0.9],[2.6,-1.3],
  [2.7,1.4],[2.85,-0.5],[3,0.2],[3.2,-1],[-3.1,-0.7],[-3.3,0.9],[-3.6,-0.3],[3.5,0.6],[2,2.7],[-2,-2.9],[0.3,-3],[-0.7,3]];
const g0_c = [[-3.8,-1.9],[-3.6,-2.4],[-3.3,-2.9],[-3.2,0.3],[-2.8,1.5],[-2.6,-0.8],[-2.3,2.1],[-2.1,0.6],[-1.9,-1.6],[-1.7,2.7],
  [-1.5,1.2],[-1.3,-0.4],[-1.1,3.1],[-0.9,0.9],[-0.7,2.2],[-0.5,-1.1],[-0.4,3.6],[-0.2,1.6],[0,0.3],[0.2,2.6],
  [0.3,-0.6],[0.5,3.3],[0.7,1.1],[0.8,-1.8],[1,2.4],[1.2,0.5],[1.3,-2.5],[1.5,3.1],[1.7,1.7],[1.9,-0.3],
  [2.1,2.2],[2.3,0.9],[2.5,-1.2],[2.7,3.5],[2.9,1.4],[3.1,-0.6],[3.3,2.6],[3.5,0.2],[3.7,-2.1],[3.9,-3.3],
  [-2.9,-3.3],[-1.6,-2.6],[0.1,-3.2],[1.9,-3.7],[-2.4,3.1],[-0.9,-2.3],[0.6,-2.9],[2.2,-2.6],[-3.5,1.8],[1.1,3.8],
  [-3.9,1.1],[-3.7,0.4],[-3.5,2.6],[-3.4,-0.9],[-3.2,1.5],[-3,3.3],[-2.9,-1.7],[-2.8,0.7],[-2.7,2.4],[-2.6,-2.2],
  [-2.5,1.2],[-2.4,-0.2],[-2.3,3.6],[-2.2,1.8],[-2.1,-1.1],[-2,0.1],[-1.9,2.9],[-1.8,1.4],[-1.7,-0.6],[-1.6,3.3],
  [-1.5,2.1],[-1.4,0.6],[-1.3,-1.5],[-1.2,2.5],[-1.1,1.5],[-1,-0.1],[-0.95,3.9],[-0.85,1.9],[-0.8,0.4],[-0.7,-1.4],
  [-0.6,2.9],[-0.55,1.2],[-0.45,-0.4],[-0.35,2.3],[-0.3,3.4],[-0.2,0.9],[-0.1,-1.9],[-0.05,1.9],[0.05,2.8],[0.15,0.6],
  [0.25,-1.2],[0.3,1.4],[0.4,2.2],[0.45,3.6],[0.55,0],[0.6,1.7],[0.7,-0.9],[0.75,2.7],[0.85,0.9],[0.9,-2.4],
  [1,1.9],[1.05,3.3],[1.15,0],[1.25,1.2],[1.35,2.7],[1.4,-1.3],[1.5,0.7],[1.6,2.1],[1.65,-0.7],[1.75,3.9],
  [1.8,1.1],[1.9,2.5],[2,-1.5],[2.1,0.5],[2.2,1.5],[2.3,3],[2.4,-0.5],[2.5,1.9],[2.6,0.8],[2.7,-1.9],
  [2.8,2.3],[2.9,0.3],[3,1.1],[3.1,-1.3],[3.2,3.1],[3.3,1.9],[3.4,-0.5],[3.5,0.9],[3.7,1.6],[3.85,-1.1],
  [-3.8,-2.7],[-3,-3.6],[-1.5,-3],[-0.5,-2.6],[0.4,-3.4],[1.6,-2.9],[2.5,-3.2],[3.6,-3.5],[-2.5,-3],[1.2,-3.8]];

const constellations = [
  [g1_a, g1_b, g1_c], [g09_a, g09_b, g09_c], [g05_a, g05_b, g05_c],
  [g02_a, g02_b, g02_c], [g01_a, g01_b, g01_c], [g0_a, g0_b, g0_c]
];

// ---- beampatterns, [degree, dBi] ----
const beam_g1 = [[-90,-4.35],[-80,-4.9],[-72,-5.45],[-65,-5],[-60,-4.35],[-55,-3.95],[-50,-4.35],[-45,-5.7],[-41,-7.4],[-38,-6.3],
  [-35,-4.3],[-30,-0.9],[-25,1.7],[-20,2.6],[-15,2.5],[-10,1.75],[-5,0.55],[0,-1.3],[1.5,-1.5],[5,-0.7],[10,1.4],[16,2.6],[20,2.2],
  [25,0.1],[29,-2.6],[32,-3.8],[35,-2.6],[40,0.3],[45,2],[50,2.6],[55,2.4],[60,1.45],[65,0],[70,-1.6],[75,-2.95],[80,-3.9],[85,-4.35],[90,-4.45]];
const beam_g09 = [[-90,-7.7],[-80,-7.7],[-70,-6.7],[-60,-5.35],[-55,-4.9],[-50,-5.35],[-45,-6.45],[-40,-7.4],[-35,-6.2],[-30,-4.3],
  [-25,-3.7],[-20,-3],[-15,0],[-10,3.4],[-5,5.35],[-1,6],[5,5.1],[10,2.6],[15,-0.3],[18,-1.4],[21,-1.2],[25,-0.6],[30,-1.1],
  [35,-3],[40,-4.45],[43,-4.9],[48,-4.4],[53,-4.2],[60,-4.9],[70,-6.55],[80,-7.55],[90,-7.7]];
const beam_g05 = [[-90,-8.1],[-80,-8.1],[-70,-7.3],[-60,-5.8],[-55,-5.4],[-50,-5.8],[-45,-6.9],[-40,-7.45],[-35,-6.05],[-30,-4.4],
  [-25,-3.7],[-21,-3.2],[-15,-0.2],[-10,3.45],[-5,5.7],[0,6.25],[5,5.1],[10,2.3],[15,-0.3],[19,-2],[23,-1.5],[27,-1],[31,-1.5],
  [35,-3.25],[40,-5.2],[44,-5.8],[50,-5.2],[55,-4.9],[60,-5.4],[70,-6.9],[80,-7.9],[90,-8.1]];
const beam_g02 = [[-90,-8.85],[-80,-8.95],[-70,-8.3],[-60,-6.8],[-55,-6.35],[-50,-6.6],[-45,-7.45],[-41,-7.85],[-35,-6.35],[-30,-4.55],
  [-25,-3.8],[-21,-3.8],[-15,-0.75],[-10,3.45],[-5,5.95],[0,6.5],[5,5.4],[10,2.9],[15,-0.6],[19,-3.15],[22,-2.85],[27,-2],[31,-2.4],
  [35,-4.4],[40,-6.45],[44,-7.35],[50,-6.45],[56,-5.8],[60,-5.95],[70,-7.45],[80,-8.55],[90,-8.85]];
const beam_g01 = [[-90,-9.6],[-80,-9.7],[-70,-9.05],[-60,-7.55],[-55,-7],[-50,-7.4],[-45,-8.2],[-43,-8.4],[-40,-7.95],[-35,-5.7],
  [-30,-3.9],[-27,-3.6],[-21,-4.15],[-15,-0.95],[-10,3.2],[-5,5.7],[0,6.7],[5,5.7],[10,2.9],[15,-0.95],[20,-4.05],[24,-3.3],
  [28,-2.8],[32,-3.5],[38,-6.8],[44,-8.6],[50,-7.4],[57,-6.55],[62,-6.9],[70,-8.25],[80,-9.3],[90,-9.6]];
const beam_g0 = [[-90,-10.3],[-80,-10.2],[-70,-9.25],[-60,-7.4],[-56,-7.1],[-50,-7.55],[-45,-8.7],[-43,-9.15],[-40,-8.6],[-35,-6.45],
  [-30,-4.4],[-27,-4.2],[-22,-4.9],[-15,-1.65],[-10,3.1],[-5,5.9],[0,7.05],[5,5.9],[10,3.1],[15,-1.65],[22,-4.9],[27,-4.2],
  [30,-4.4],[35,-6.45],[40,-8.6],[43,-9.15],[45,-8.7],[50,-7.55],[56,-7.1],[60,-7.4],[70,-9.25],[80,-10.2],[90,-10.3]];
const beams = [beam_g1, beam_g09, beam_g05, beam_g02, beam_g01, beam_g0];

// ---- drawing ----
const svg = d3.select("#fig");
const rowPitch = 215.6;
const plotH = 171, beamH = 162;
const panelX = [[10, 226], [230, 445], [449, 662], [667, 1150]];
const plotX = [[35, 220], [254, 440], [472, 658]];
const beamX = [703, 1145];
const gridCol = "#d2d2ef", axisCol = "#666", txtCol = "#4a4a4a";
const fmt = d => d < 0 ? "-" + Math.abs(d) : d;

function minorAxis(g, axis) {
  g.call(axis).call(s => s.select(".domain").remove())
    .selectAll("line").attr("stroke", axisCol);
}

function majorAxis(g, axis, fs) {
  g.call(axis);
  g.select(".domain").attr("stroke", axisCol);
  g.selectAll("line").attr("stroke", axisCol);
  g.selectAll("text").attr("fill", txtCol).attr("font-size", fs);
}

function drawScatter(top, xr, pts, label) {
  const x = d3.scaleLinear().domain([-4, 4]).range(xr);
  const y = d3.scaleLinear().domain([-4, 4]).range([top + plotH, top]);
  const g = svg.append("g");
  g.append("rect").attr("x", xr[0]).attr("y", top).attr("width", xr[1] - xr[0]).attr("height", plotH)
    .attr("fill", "#f5f6fc").attr("stroke", "#b9bccd").attr("stroke-width", 0.8);
  g.selectAll(".gx").data(iqTicks.slice(1, -1)).join("line")
    .attr("x1", d => x(d)).attr("x2", d => x(d)).attr("y1", top).attr("y2", top + plotH)
    .attr("stroke", gridCol).attr("stroke-width", 0.8);
  g.selectAll(".gy").data(iqTicks.slice(1, -1)).join("line")
    .attr("y1", d => y(d)).attr("y2", d => y(d)).attr("x1", xr[0]).attr("x2", xr[1])
    .attr("stroke", gridCol).attr("stroke-width", 0.8);

  const clipId = "c" + Math.round(top) + "_" + xr[0];
  g.append("clipPath").attr("id", clipId).append("rect")
    .attr("x", xr[0]).attr("y", top).attr("width", xr[1] - xr[0]).attr("height", plotH);
  g.append("g").attr("clip-path", `url(#${clipId})`).selectAll("circle").data(pts).join("circle")
    .attr("cx", d => x(d[0])).attr("cy", d => y(d[1])).attr("r", 1.5).attr("fill", "#e8262b");

  const minor = d3.range(-4, 4.001, 0.2);
  minorAxis(g.append("g").attr("transform", `translate(0,${top + plotH})`),
    d3.axisBottom(x).tickValues(minor).tickSize(-2.5).tickFormat(""));
  majorAxis(g.append("g").attr("transform", `translate(0,${top + plotH})`),
    d3.axisBottom(x).tickValues(iqTicks).tickSize(3).tickPadding(3).tickFormat(fmt), 8);
  minorAxis(g.append("g").attr("transform", `translate(${xr[0]},0)`),
    d3.axisLeft(y).tickValues(minor).tickSize(-2.5).tickFormat(""));
  majorAxis(g.append("g").attr("transform", `translate(${xr[0]},0)`),
    d3.axisLeft(y).tickValues(iqTicks).tickSize(3).tickPadding(2).tickFormat(fmt), 8);

  g.append("text").attr("x", (xr[0] + xr[1]) / 2).attr("y", top + 196).attr("text-anchor", "middle")
    .attr("font-size", 9).attr("fill", txtCol).text("In-phase");
  g.append("text").attr("transform", `translate(${xr[0] - 18},${top + plotH / 2}) rotate(-90)`)
    .attr("text-anchor", "middle").attr("font-size", 9).attr("fill", txtCol).text("Quadrature");
  if (label) {
    g.append("text").attr("x", xr[0] + 17).attr("y", top + 9).attr("font-size", 9)
      .attr("font-weight", "bold").attr("fill", "#111").text(label);
  }
}

function drawBeam(top, data) {
  const x = d3.scaleLinear().domain([-90, 90]).range(beamX);
  const y = d3.scaleLinear().domain([-15, 12]).range([top + beamH, top]);
  const g = svg.append("g");
  g.append("rect").attr("x", beamX[0]).attr("y", top).attr("width", beamX[1] - beamX[0]).attr("height", beamH)
    .attr("fill", "#f5f6fc").attr("stroke", "#b9bccd").attr("stroke-width", 0.8);
  g.selectAll(".gx").data(degTicks.slice(1, -1)).join("line")
    .attr("x1", d => x(d)).attr("x2", d => x(d)).attr("y1", top).attr("y2", top + beamH)
    .attr("stroke", gridCol).attr("stroke-width", 0.8);
  g.selectAll(".gy").data(dbGrid).join("line")
    .attr("y1", d => y(d)).attr("y2", d => y(d)).attr("x1", beamX[0]).attr("x2", beamX[1])
    .attr("stroke", gridCol).attr("stroke-width", 0.8);

  const line = d3.line().x(d => x(d[0])).y(d => y(d[1])).curve(d3.curveMonotoneX);
  g.append("path").datum(data).attr("d", line).attr("fill", "none")
    .attr("stroke", "#ad6068").attr("stroke-width", 1);

  minorAxis(g.append("g").attr("transform", `translate(0,${top + beamH})`),
    d3.axisBottom(x).tickValues(d3.range(-90, 90.1, 2)).tickSize(-2.5).tickFormat(""));
  majorAxis(g.append("g").attr("transform", `translate(0,${top + beamH})`),
    d3.axisBottom(x).tickValues(degTicks).tickSize(3).tickPadding(3).tickFormat(fmt), 10.5);
  minorAxis(g.append("g").attr("transform", `translate(${beamX[0]},0)`),
    d3.axisLeft(y).tickValues(d3.range(-15, 12.1, 1)).tickSize(-2.5).tickFormat(""));
  majorAxis(g.append("g").attr("transform", `translate(${beamX[0]},0)`),
    d3.axisLeft(y).tickValues(dbTicks).tickSize(3).tickPadding(2).tickFormat(fmt), 10.5);

  g.append("text").attr("x", (beamX[0] + beamX[1]) / 2).attr("y", top + 196).attr("text-anchor", "middle")
    .attr("font-size", 10.5).attr("fill", txtCol).text("Degree");
  g.append("text").attr("transform", `translate(${beamX[0] - 29},${top + beamH / 2}) rotate(-90)`)
    .attr("text-anchor", "middle").attr("font-size", 10).attr("fill", txtCol).text("Beampattern (dBi)");
}

gammaLabels.forEach((lab, r) => {
  const top = 10 + r * rowPitch;
  panelX.forEach(p => {
    svg.append("rect").attr("x", p[0]).attr("y", top - 5).attr("width", p[1] - p[0]).attr("height", 205)
      .attr("fill", "#e9e9e9");
  });
  svg.append("rect").attr("x", 8.5).attr("y", top - 6.5).attr("width", 1143).attr("height", 208)
    .attr("rx", 7).attr("fill", "none").attr("stroke", "#111").attr("stroke-width", 1)
    .attr("stroke-dasharray", "4,2");
  constellations[r].forEach((pts, k) => drawScatter(top, plotX[k], pts, k === 0 ? lab : null));
  drawBeam(top + 1, beams[r]);
});
</script>
</body>
</html>
